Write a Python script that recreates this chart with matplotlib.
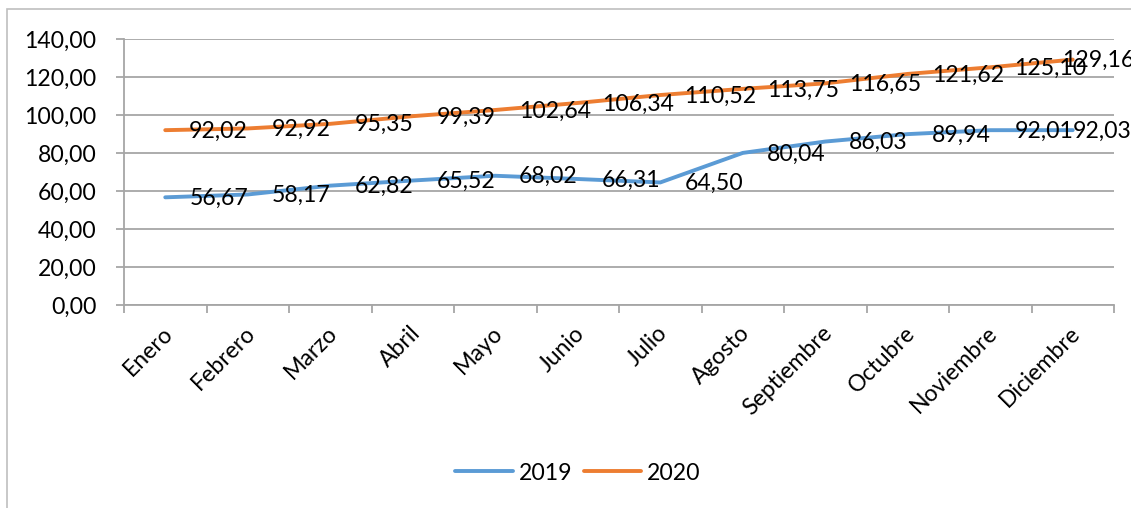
import matplotlib.pyplot as plt
from matplotlib.patches import Rectangle
from matplotlib.ticker import FixedLocator

meses = ['Enero', 'Febrero', 'Marzo', 'Abril', 'Mayo', 'Junio', 'Julio',
         'Agosto', 'Septiembre', 'Octubre', 'Noviembre', 'Diciembre']
v2019 = [56.67, 58.17, 62.82, 65.52, 68.02, 66.31, 64.50, 80.04, 86.03, 89.94, 92.01, 92.03]
v2020 = [92.02, 92.92, 95.35, 99.39, 102.64, 106.34, 110.52, 113.75, 116.65, 121.62, 125.10, 129.16]
yticks = [0, 20, 40, 60, 80, 100, 120, 140]

plt.rcParams['font.family'] = ['Lato', 'DejaVu Sans']
fs = 16.6
grid_c = '#A6A6A6'

W, H = 1131, 508
fig = plt.figure(figsize=(W / 100, H / 100), dpi=100)
ax = fig.add_axes([124 / W, 1 - 305 / H, 990 / W, 266 / H])

# chart border (runs off the right/bottom edge)
fig.patches.append(Rectangle((7 / W, -0.05), 1.2, 1 - 9 / H + 0.05, transform=fig.transFigure,
                             fill=False, ec='#BFBFBF', lw=1.2, clip_on=False))

x = list(range(len(meses)))
ax.plot(x, v2019, color='#5B9BD5', lw=2.8, solid_capstyle='round', label='2019')
ax.plot(x, v2020, color='#ED7D31', lw=2.8, solid_capstyle='round', label='2020')

for serie, last_dx in ((v2019, 0), (v2020, -11)):
    for i, v in enumerate(serie):
        dx = last_dx if i == len(serie) - 1 else 24
        ax.annotate(f'{v:.2f}'.replace('.', ','), (i, v), xytext=(dx, -1),
                    textcoords='offset pixels', ha='left', va='center',
                    fontsize=fs, color='black', annotation_clip=False)

ax.set_xlim(-0.5, len(meses) - 0.5)
ax.set_ylim(0, 140)
ax.set_yticks(yticks)
ax.set_yticklabels([f'{t:.2f}'.replace('.', ',') for t in yticks], fontsize=fs)
ax.yaxis.grid(True, color=grid_c, lw=1.3)
ax.set_axisbelow(True)

# month labels, rotated, top-right corner near each category centre
ax.set_xticks(x)
ax.set_xticklabels([])
for i, m in enumerate(meses):
    ax.annotate(m, (i, 0), xytext=(4, -25), textcoords='offset pixels',
                xycoords=ax.get_xaxis_transform(), rotation=45, ha='right', va='center',
                rotation_mode='anchor', fontsize=fs, annotation_clip=False)
ax.xaxis.set_minor_locator(FixedLocator([i - 0.5 for i in range(len(meses) + 1)]))
ax.tick_params(axis='x', which='major', length=0)
ax.tick_params(axis='x', which='minor', length=6, color=grid_c, width=1.3)
ax.tick_params(axis='y', length=6, color=grid_c, width=1.3, pad=14)

for s in ('top', 'right'):
    ax.spines[s].set_visible(False)
for s in ('left', 'bottom'):
    ax.spines[s].set_color(grid_c)
    ax.spines[s].set_linewidth(1.3)

fig.legend(loc='center', bbox_to_anchor=(578 / W, 1 - 473 / H), ncol=2, frameon=False,
           fontsize=fs, handlelength=2.5, handletextpad=0.25, columnspacing=0.5)

fig.savefig('out.png', dpi=100)
